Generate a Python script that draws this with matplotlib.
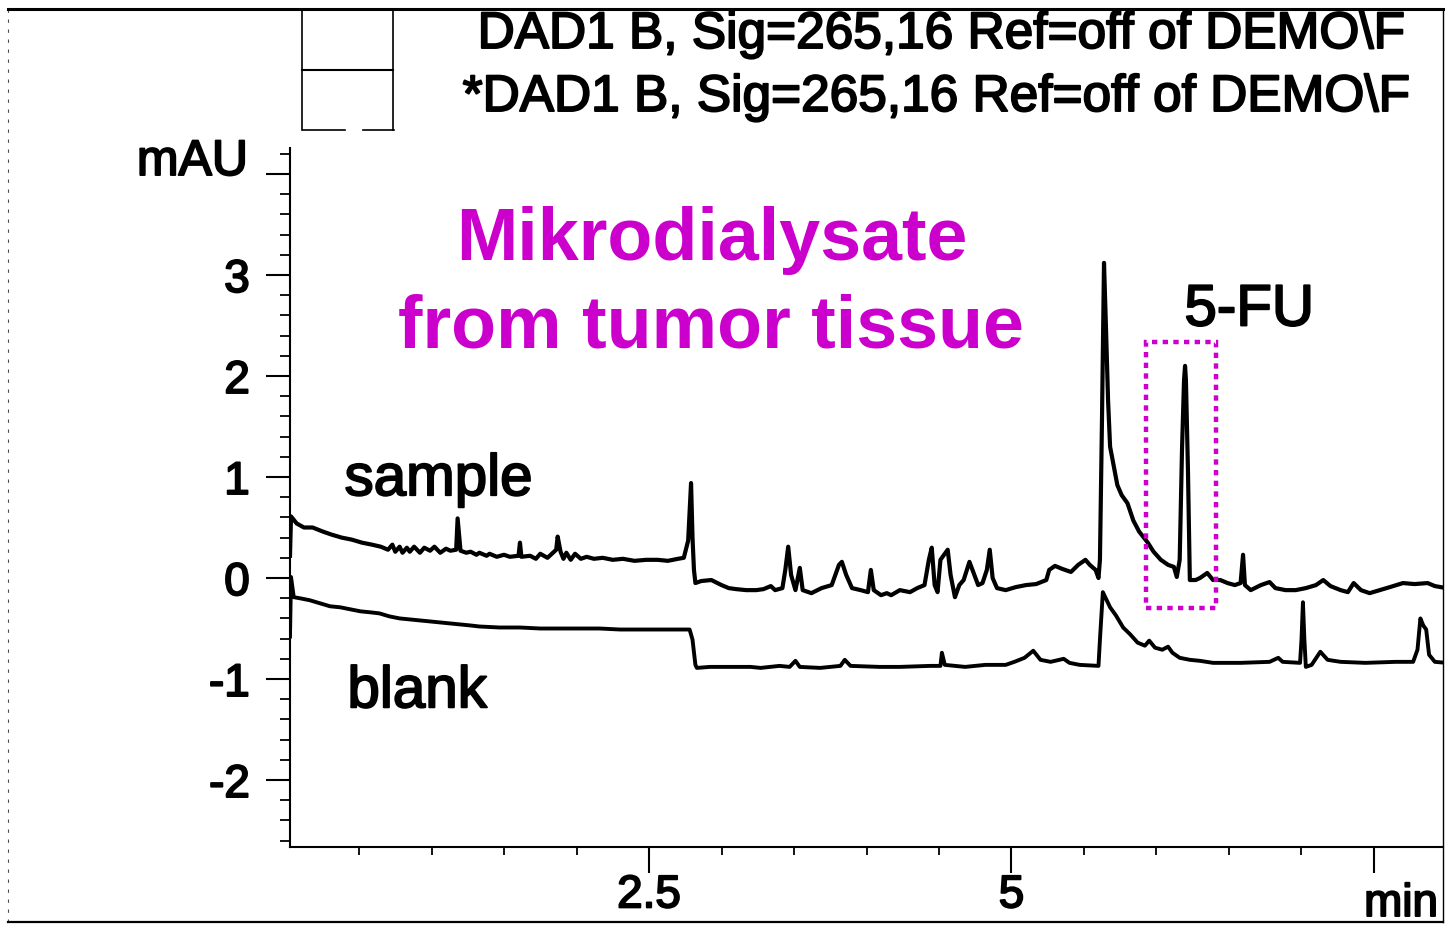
import matplotlib
matplotlib.use("Agg")
import matplotlib.pyplot as plt
import matplotlib.patheffects as pe
from matplotlib.lines import Line2D
from matplotlib.patches import Rectangle
from matplotlib.ticker import MultipleLocator, FixedLocator

plt.rcParams["font.family"] = ["Liberation Sans", "DejaVu Sans"]

# retention time (min) / absorbance (mAU), sample trace
sample_t = [0.024, 0.031, 0.07, 0.12, 0.18, 0.25, 0.31, 0.38, 0.45, 0.52, 0.59, 0.65,
            0.70, 0.73, 0.75, 0.78, 0.80, 0.83, 0.85, 0.88, 0.92, 0.95, 0.99, 1.02,
            1.06, 1.10, 1.13, 1.17, 1.18, 1.20, 1.24, 1.27, 1.31, 1.33, 1.38, 1.40,
            1.45, 1.50, 1.54, 1.60, 1.61, 1.62, 1.68, 1.72, 1.75, 1.80, 1.83, 1.86,
            1.87, 1.89, 1.91, 1.93, 1.96, 1.99, 2.03, 2.07, 2.12, 2.18, 2.25, 2.32,
            2.40, 2.48, 2.56, 2.63, 2.70, 2.74, 2.77, 2.79, 2.80, 2.81, 2.82, 2.86,
            2.93, 3.00, 3.05, 3.10, 3.17, 3.24, 3.29, 3.34, 3.37, 3.42, 3.44, 3.46,
            3.48, 3.51, 3.54, 3.56, 3.62, 3.69, 3.76, 3.81, 3.83, 3.86, 3.90, 3.96,
            4.01, 4.03, 4.05, 4.10, 4.14, 4.17, 4.23, 4.30, 4.35, 4.40, 4.43, 4.45,
            4.47, 4.49, 4.51, 4.56, 4.58, 4.61, 4.64, 4.67, 4.71, 4.77, 4.80, 4.83,
            4.85, 4.87, 4.90, 4.96, 5.03, 5.10, 5.17, 5.24, 5.26, 5.30, 5.35, 5.41,
            5.46, 5.51, 5.54, 5.58, 5.60, 5.61, 5.624, 5.638, 5.652, 5.666, 5.68,
            5.71, 5.73, 5.76, 5.80, 5.84, 5.88, 5.94, 5.98, 6.03, 6.08, 6.12, 6.14,
            6.16, 6.176, 6.19, 6.197, 6.203, 6.217, 6.23, 6.27, 6.30, 6.35, 6.39,
            6.44, 6.49, 6.54, 6.58, 6.597, 6.61, 6.65, 6.72, 6.78, 6.82, 6.89, 6.96,
            7.03, 7.10, 7.15, 7.20, 7.27, 7.32, 7.36, 7.41, 7.47, 7.54, 7.61, 7.70,
            7.78, 7.87, 7.92, 8.00]
sample_mau = [0.22, 0.61, 0.54, 0.50, 0.50, 0.46, 0.43, 0.40, 0.38, 0.35, 0.33, 0.31,
              0.28, 0.33, 0.26, 0.31, 0.25, 0.30, 0.26, 0.31, 0.25, 0.30, 0.27, 0.31,
              0.25, 0.29, 0.27, 0.28, 0.59, 0.27, 0.25, 0.26, 0.23, 0.25, 0.22, 0.24,
              0.21, 0.23, 0.21, 0.22, 0.35, 0.21, 0.22, 0.19, 0.24, 0.20, 0.24, 0.28,
              0.41, 0.26, 0.19, 0.25, 0.18, 0.24, 0.19, 0.21, 0.19, 0.20, 0.18, 0.19,
              0.17, 0.18, 0.18, 0.17, 0.19, 0.20, 0.37, 0.94, 0.40, 0.08, -0.05, -0.03,
              -0.02, -0.07, -0.10, -0.11, -0.12, -0.12, -0.11, -0.08, -0.12, -0.10, 0.08, 0.31,
              0.03, -0.12, 0.10, -0.12, -0.15, -0.10, -0.07, 0.13, 0.16, 0.03, -0.10, -0.12,
              -0.14, 0.08, -0.12, -0.17, -0.15, -0.17, -0.12, -0.14, -0.10, -0.07, 0.18, 0.30,
              -0.07, -0.14, 0.18, 0.28, 0.03, -0.19, -0.07, -0.02, 0.16, -0.07, -0.05, 0.08,
              0.28, 0.00, -0.10, -0.12, -0.09, -0.07, -0.06, -0.02, 0.08, 0.12, 0.09, 0.06,
              0.13, 0.18, 0.13, 0.08, 0.00, 0.18, 1.56, 3.12, 2.46, 1.76, 1.30,
              1.07, 0.92, 0.82, 0.74, 0.57, 0.46, 0.35, 0.26, 0.18, 0.13, 0.11, 0.01,
              0.18, 1.27, 1.96, 2.10, 1.96, 1.07, -0.02, -0.02, 0.00, 0.05, -0.02,
              -0.02, -0.05, -0.07, -0.05, 0.23, -0.07, -0.12, -0.07, -0.04, -0.10, -0.12, -0.12,
              -0.10, -0.07, -0.02, -0.08, -0.12, -0.14, -0.05, -0.12, -0.15, -0.12, -0.09, -0.05,
              -0.06, -0.05, -0.08, -0.10]

# blank trace
blank_t = [0.024, 0.031, 0.05, 0.09, 0.16, 0.23, 0.30, 0.37, 0.44, 0.51, 0.58, 0.64,
           0.71, 0.78, 0.85, 0.92, 0.99, 1.06, 1.13, 1.20, 1.27, 1.33, 1.47, 1.61,
           1.75, 1.89, 2.02, 2.16, 2.30, 2.51, 2.64, 2.78, 2.80, 2.82, 2.83, 2.92,
           3.06, 3.20, 3.27, 3.40, 3.47, 3.51, 3.54, 3.68, 3.82, 3.85, 3.89, 4.09,
           4.23, 4.44, 4.51, 4.52, 4.54, 4.68, 4.82, 4.96, 5.02, 5.09, 5.15, 5.20,
           5.27, 5.36, 5.40, 5.47, 5.60, 5.61, 5.63, 5.65, 5.68, 5.72, 5.77, 5.82,
           5.87, 5.92, 5.95, 5.99, 6.04, 6.08, 6.11, 6.16, 6.23, 6.30, 6.39, 6.58,
           6.78, 6.84, 6.87, 6.99, 7.00, 7.01, 7.02, 7.03, 7.07, 7.13, 7.18, 7.27,
           7.44, 7.65, 7.77, 7.80, 7.82, 7.84, 7.86, 7.88, 7.92, 8.00]
blank_mau = [-0.58, 0.01, -0.19, -0.20, -0.22, -0.25, -0.28, -0.29, -0.31, -0.33, -0.34, -0.35,
             -0.38, -0.40, -0.41, -0.42, -0.43, -0.44, -0.45, -0.46, -0.47, -0.48, -0.49, -0.49,
             -0.50, -0.50, -0.50, -0.50, -0.51, -0.51, -0.51, -0.51, -0.61, -0.86, -0.89, -0.88,
             -0.88, -0.88, -0.89, -0.87, -0.88, -0.82, -0.88, -0.89, -0.87, -0.81, -0.87, -0.88,
             -0.88, -0.87, -0.87, -0.74, -0.86, -0.88, -0.86, -0.86, -0.83, -0.79, -0.72, -0.81,
             -0.83, -0.80, -0.84, -0.86, -0.87, -0.61, -0.14, -0.20, -0.29, -0.37, -0.49, -0.56,
             -0.64, -0.67, -0.62, -0.69, -0.71, -0.68, -0.74, -0.79, -0.81, -0.82, -0.84, -0.84,
             -0.83, -0.79, -0.83, -0.84, -0.61, -0.24, -0.61, -0.88, -0.86, -0.73, -0.81, -0.83,
             -0.84, -0.83, -0.83, -0.71, -0.40, -0.47, -0.51, -0.76, -0.83, -0.84]

# 5-FU peak window (min, mAU)
fu_window_t = (5.93, 6.41)
fu_window_mau = (-0.30, 2.34)

y_major = [-2, -1, 0, 1, 2, 3, 4]
y_labels = ["-2", "-1", "0", "1", "2", "3", ""]
x_major = [2.5, 5, 7.5]
x_labels = ["2.5", "5", ""]

MAGENTA = "#cc00cc"
W, H = 1446, 926


def fx(x):
    return x / W


def fy(y):
    return 1 - y / H


fig = plt.figure(figsize=(W / 100, H / 100), dpi=100)
ax = fig.add_axes([fx(290), fy(847), fx(1443) - fx(290), fy(148) - fy(847)])

ax.plot(sample_t, sample_mau, color="black", lw=3.0, solid_joinstyle="round", zorder=3)
ax.plot(blank_t, blank_mau, color="black", lw=2.8, solid_joinstyle="round", zorder=3)

ax.set_xlim(0.024, 7.976)
ax.set_ylim(-2.663, 4.257)

for s in ("top", "right"):
    ax.spines[s].set_visible(False)
for s in ("left", "bottom"):
    ax.spines[s].set_linewidth(1.5)

ax.yaxis.set_major_locator(FixedLocator(y_major))
ax.set_yticklabels(y_labels)
ax.yaxis.set_minor_locator(MultipleLocator(0.2))
ax.xaxis.set_major_locator(FixedLocator(x_major))
ax.set_xticklabels(x_labels)
ax.xaxis.set_minor_locator(MultipleLocator(0.5))

ax.tick_params(axis="y", which="major", length=17, width=1.5, pad=12, labelsize=33)
ax.tick_params(axis="y", which="minor", length=7, width=1.3)
ax.tick_params(axis="x", which="major", length=19, width=1.5, pad=0, labelsize=33)
ax.tick_params(axis="x", which="minor", length=6, width=1.3)

thick = [pe.withStroke(linewidth=1.4, foreground="black")]
for lab in ax.get_xticklabels() + ax.get_yticklabels():
    lab.set_path_effects(thick)

# peak window
ax.add_patch(Rectangle((fu_window_t[0], fu_window_mau[0]),
                       fu_window_t[1] - fu_window_t[0],
                       fu_window_mau[1] - fu_window_mau[0],
                       fill=False, edgecolor=MAGENTA, lw=3.2,
                       linestyle=(0, (1.2, 1.2)), zorder=4))

# annotations
ax.text(2.93, 3.15, "Mikrodialysate", color=MAGENTA, fontsize=53,
        fontweight="bold", ha="center", va="baseline")
ax.text(2.93, 2.28, "from tumor tissue", color=MAGENTA, fontsize=53,
        fontweight="bold", ha="center", va="baseline")
ax.text(0.40, 0.82, "sample", fontsize=42, ha="left", va="baseline",
        path_effects=thick)
ax.text(0.42, -1.28, "blank", fontsize=42, ha="left", va="baseline",
        path_effects=thick)
ax.text(6.64, 2.50, "5-FU", fontsize=42, ha="center", va="baseline",
        path_effects=thick)

# axis unit labels
fig.text(fx(248), fy(175), "mAU", fontsize=36, ha="right", va="baseline",
         path_effects=thick)
fig.text(fx(1438), fy(916), "min", fontsize=33, ha="right", va="baseline",
         path_effects=thick)

# signal header
fig.text(fx(1405), fy(48), "DAD1 B, Sig=265,16 Ref=off of DEMO\\F", fontsize=37,
         ha="right", va="baseline", path_effects=thick)
fig.text(fx(1410), fy(111), "*DAD1 B, Sig=265,16 Ref=off of DEMO\\F", fontsize=37,
         ha="right", va="baseline", path_effects=thick)


def fig_line(xs, ys, **kw):
    fig.add_artist(Line2D([fx(v) for v in xs], [fy(v) for v in ys],
                          color="black", **kw))


# legend swatches
fig_line([302, 302], [9, 130], lw=1.2)
fig_line([393, 393], [9, 130], lw=1.2)
fig_line([302, 393], [70, 70], lw=1.5)
fig_line([303, 345], [130, 130], lw=1.2)
fig_line([363, 394], [130, 130], lw=1.2)

# page frame
fig_line([8, 1443], [9, 9], lw=2.2)
fig_line([8, 1443], [922, 922], lw=1.6)
fig_line([1443, 1443], [9, 922], lw=1.0)
fig_line([8, 8], [9, 922], lw=0.8, linestyle=(0, (3, 6)), alpha=0.7)

fig.savefig("out.png", dpi=100, facecolor="white")
